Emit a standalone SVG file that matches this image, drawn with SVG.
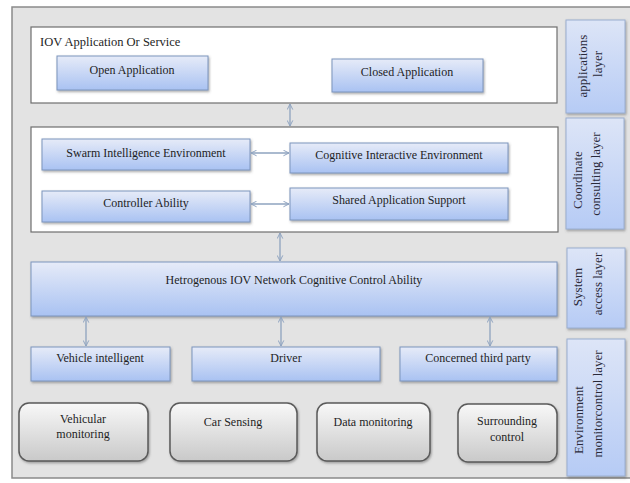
<svg xmlns="http://www.w3.org/2000/svg" width="630" height="483" viewBox="0 0 630 483">
<defs>
<linearGradient id="gBlue" x1="0" y1="0" x2="0" y2="1">
<stop offset="0" stop-color="#e6ebf8"/>
<stop offset="1" stop-color="#a9c2f2"/>
</linearGradient>
<linearGradient id="gSide" x1="0" y1="0" x2="0" y2="1">
<stop offset="0" stop-color="#dde5f7"/>
<stop offset="1" stop-color="#b6cbf5"/>
</linearGradient>
<linearGradient id="gGray" x1="0" y1="0" x2="0" y2="1">
<stop offset="0" stop-color="#f8f8f8"/>
<stop offset="1" stop-color="#c9c9c9"/>
</linearGradient>
<filter id="sh" x="-10%" y="-10%" width="120%" height="130%">
<feDropShadow dx="1" dy="1.5" stdDeviation="1" flood-color="#555" flood-opacity="0.5"/>
</filter>
<marker id="ah" viewBox="0 0 10 10" refX="9" refY="5" markerWidth="7" markerHeight="7" orient="auto-start-reverse" markerUnits="userSpaceOnUse">
<path d="M1,1 L9,5 L1,9" fill="none" stroke="#8ea3bf" stroke-width="1.4"/>
</marker>
</defs>
<style>
.frame{fill:#e3e3e3;stroke:#8a8a8a;stroke-width:1.5}
.panel{fill:#ffffff;stroke:#6e6e6e;stroke-width:1.2}
.bb{fill:url(#gBlue);stroke:#7d95bd;stroke-width:1;filter:url(#sh)}
.side{fill:url(#gSide);stroke:#9aaed0;stroke-width:1;filter:url(#sh)}
.gb{fill:url(#gGray);stroke:#5a5a5a;stroke-width:1.5;filter:url(#sh)}
text{font-family:"Liberation Serif","Times New Roman",serif;fill:#1e1e1e}
.t{font-size:12px;text-anchor:middle}
.tl{font-size:12.5px}
.ts{font-size:13px;fill:#2a2a3a;text-anchor:middle}
.conn line{stroke:#8ea3bf;stroke-width:1.3;marker-start:url(#ah);marker-end:url(#ah)}
</style>
<rect x="0" y="0" width="630" height="483" fill="#ffffff"/>
<rect class="frame" x="12" y="7" width="625" height="471"/>

<g id="app-layer">
<rect class="panel" x="31" y="27" width="526" height="76"/>
<text class="tl" x="40" y="46">IOV Application Or Service</text>
</g>
<g id="open-app">
<rect class="bb" x="57" y="56" width="151" height="34"/>
<text class="t" x="132" y="74">Open Application</text>
</g>
<g id="closed-app">
<rect class="bb" x="332" y="59" width="151" height="33"/>
<text class="t" x="407" y="76">Closed Application</text>
</g>

<g id="coord-layer">
<rect class="panel" x="31" y="127" width="527" height="105"/>
</g>
<g id="swarm">
<rect class="bb" x="42" y="139" width="208" height="31"/>
<text class="t" x="146" y="157">Swarm Intelligence Environment</text>
</g>
<g id="cognitive">
<rect class="bb" x="290" y="143" width="218" height="30"/>
<text class="t" x="399" y="159">Cognitive Interactive Environment</text>
</g>
<g id="controller">
<rect class="bb" x="42" y="191" width="208" height="31"/>
<text class="t" x="146" y="207">Controller Ability</text>
</g>
<g id="shared">
<rect class="bb" x="290" y="188" width="218" height="32"/>
<text class="t" x="399" y="204">Shared Application Support</text>
</g>

<g id="network">
<rect class="bb" x="31" y="262" width="526" height="54"/>
<text class="t" x="294" y="284">Hetrogenous IOV Network Cognitive Control Ability</text>
</g>

<g id="vehicle-intelligent">
<rect class="bb" x="31" y="347" width="139" height="34"/>
<text class="t" x="100" y="362">Vehicle intelligent</text>
</g>
<g id="driver">
<rect class="bb" x="192" y="347" width="188" height="34"/>
<text class="t" x="286" y="362">Driver</text>
</g>
<g id="third-party">
<rect class="bb" x="400" y="347" width="157" height="34"/>
<text class="t" x="478" y="362">Concerned third party</text>
</g>

<g id="vehicular-monitoring">
<rect class="gb" x="19" y="403" width="129" height="58" rx="10"/>
<text class="t" x="83" y="423">Vehicular</text>
<text class="t" x="83" y="438">monitoring</text>
</g>
<g id="car-sensing">
<rect class="gb" x="170" y="403" width="127" height="58" rx="10"/>
<text class="t" x="233" y="426">Car Sensing</text>
</g>
<g id="data-monitoring">
<rect class="gb" x="317" y="403" width="113" height="58" rx="10"/>
<text class="t" x="373" y="426">Data monitoring</text>
</g>
<g id="surrounding-control">
<rect class="gb" x="458" y="404" width="99" height="58" rx="10"/>
<text class="t" x="507" y="425">Surrounding</text>
<text class="t" x="507" y="441">control</text>
</g>

<g id="label-applications">
<rect class="side" x="566" y="20" width="59" height="93"/>
<text class="ts" transform="translate(587,66) rotate(-90)">applications</text>
<text class="ts" transform="translate(602,64) rotate(-90)">layer</text>
</g>
<g id="label-coordinate">
<rect class="side" x="566" y="118" width="58" height="111"/>
<text class="ts" transform="translate(582,180) rotate(-90)">Coordinate</text>
<text class="ts" transform="translate(600,174) rotate(-90)">consulting layer</text>
</g>
<g id="label-system">
<rect class="side" x="567" y="248" width="58" height="80"/>
<text class="ts" transform="translate(582,287) rotate(-90)">System</text>
<text class="ts" transform="translate(602,284) rotate(-90)">access layer</text>
</g>
<g id="label-environment">
<rect class="side" x="567" y="339" width="58" height="137"/>
<text class="ts" transform="translate(583,420) rotate(-90)">Environment</text>
<text class="ts" transform="translate(602,404) rotate(-90)">monitorcontrol layer</text>
</g>

<g id="connectors" class="conn">
<line x1="290" y1="104" x2="290" y2="126"/>
<line x1="251" y1="153" x2="289" y2="153"/>
<line x1="251" y1="204" x2="289" y2="204"/>
<line x1="280" y1="233" x2="280" y2="261"/>
<line x1="86" y1="317" x2="86" y2="346"/>
<line x1="281" y1="317" x2="281" y2="346"/>
<line x1="490" y1="317" x2="490" y2="346"/>
</g>
</svg>
